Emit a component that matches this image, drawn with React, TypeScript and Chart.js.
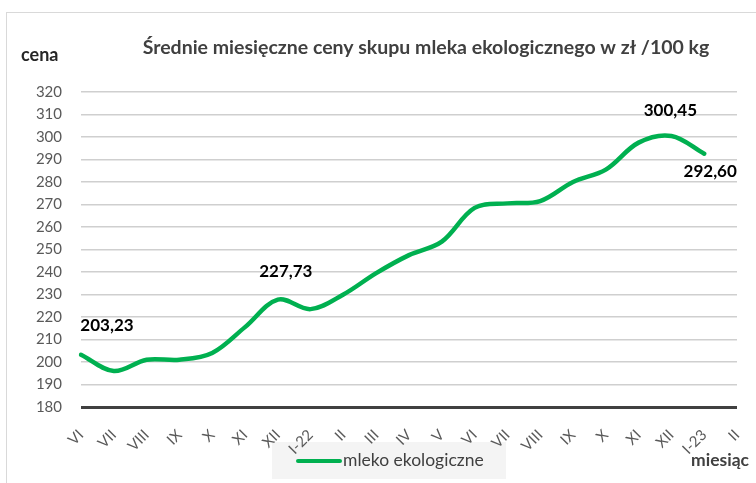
import React, { useEffect, useRef } from "react";
import { Chart, registerables } from "chart.js";

Chart.register(...registerables);

const categories = ["VI", "VII", "VIII", "IX", "X", "XI", "XII", "I-22", "II", "III", "IV", "V", "VI", "VII", "VIII", "IX", "X", "XI", "XII", "I-23", "II"];
const prices: (number | null)[] = [203.23, 196, 201, 201, 204, 215.5, 227.73, 223.5, 230, 239.5, 247.5, 253.5, 268.5, 270.5, 271.5, 280, 285.5, 297.5, 300.45, 292.6, null];
const labelledIndices = [0, 6, 18, 19];
const seriesName = "mleko ekologiczne";
const titleText = "Średnie miesięczne ceny skupu mleka ekologicznego w zł /100 kg";
const yAxisTitle = "cena";
const xAxisTitle = "miesiąc";
const yMin = 180;
const yMax = 320;
const yStep = 10;

const FONT = "Lato, 'Open Sans', sans-serif";
const GREEN = "#00B050";

// label offsets relative to the point (style)
const labelOffsets: Record<number, [number, number]> = {
  0: [26, -29],
  6: [8, -28],
  18: [-1, -25],
  19: [6, 18],
};

const decorPlugin = {
  id: "decor",
  beforeDraw(chart: any) {
    const ctx = chart.ctx;
    ctx.save();
    ctx.fillStyle = "#ffffff";
    ctx.fillRect(0, 0, chart.width, chart.height);
    ctx.strokeStyle = "#d9d9d9";
    ctx.lineWidth = 1;
    ctx.strokeRect(6.5, 12.5, 900, 700);
    // legend background
    ctx.fillStyle = "#f4f4f4";
    ctx.fillRect(272, 442, 234, 37);
    ctx.restore();
  },
  afterDraw(chart: any) {
    const ctx = chart.ctx;
    ctx.save();
    // title
    ctx.fillStyle = "#404040";
    ctx.font = `bold 19.5px ${FONT}`;
    ctx.textAlign = "center";
    ctx.textBaseline = "middle";
    ctx.fillText(titleText, 426, 48);
    // axis titles
    ctx.fillStyle = "#262626";
    ctx.font = `bold 18px ${FONT}`;
    ctx.textAlign = "left";
    ctx.fillText(yAxisTitle, 21, 55);
    ctx.fillStyle = "#404040";
    ctx.font = `bold 17.5px ${FONT}`;
    ctx.textAlign = "right";
    ctx.fillText(xAxisTitle, 749, 460);
    // legend
    ctx.strokeStyle = GREEN;
    ctx.lineWidth = 4;
    ctx.lineCap = "round";
    ctx.beginPath();
    ctx.moveTo(298, 461);
    ctx.lineTo(340, 461);
    ctx.stroke();
    ctx.fillStyle = "#404040";
    ctx.font = `17.5px ${FONT}`;
    ctx.textAlign = "left";
    ctx.fillText(seriesName, 343, 460);
    // data labels
    const meta = chart.getDatasetMeta(0);
    ctx.fillStyle = "#000000";
    ctx.font = `bold 17px ${FONT}`;
    ctx.textAlign = "center";
    labelledIndices.forEach((i) => {
      const v = prices[i];
      const pt = meta.data[i];
      if (v == null || !pt) return;
      const off = labelOffsets[i] || [0, -20];
      ctx.fillText(v.toFixed(2).replace(".", ","), pt.x + off[0], pt.y + off[1]);
    });
    ctx.restore();
  },
};

export default function App() {
  const ref = useRef<HTMLCanvasElement | null>(null);
  useEffect(() => {
    if (!ref.current) return;
    const chart = new Chart(ref.current, {
      type: "line",
      data: {
        labels: categories,
        datasets: [
          {
            label: seriesName,
            data: prices,
            borderColor: GREEN,
            backgroundColor: GREEN,
            borderWidth: 4.5,
            pointRadius: 0,
            tension: 0.35,
            fill: false,
            borderCapStyle: "round",
          },
        ],
      },
      options: {
        animation: false,
        responsive: false,
        maintainAspectRatio: false,
        devicePixelRatio: 1,
        layout: { padding: { left: 0, right: 19, top: 92, bottom: 0 } },
        plugins: { legend: { display: false }, title: { display: false }, tooltip: { enabled: false } },
        scales: {
          x: {
            type: "category",
            offset: false,
            grid: { display: false, drawTicks: false },
            border: { display: false },
            ticks: {
              autoSkip: false,
              maxRotation: 45,
              minRotation: 45,
              padding: 19,
              color: "#595959",
              font: { family: FONT, size: 15 },
            },
            afterFit: (s: any) => {
              s.height = 76;
              s.paddingLeft = 0;
              s.paddingRight = 0;
            },
          },
          y: {
            min: yMin,
            max: yMax,
            grid: {
              drawTicks: false,
              color: (c: any) => (c.tick && c.tick.value === yMin ? "#404040" : "#cfcfcf"),
              lineWidth: (c: any) => (c.tick && c.tick.value === yMin ? 3 : 1.5),
            },
            border: { display: false },
            ticks: {
              stepSize: yStep,
              padding: 19,
              color: "#595959",
              font: { family: FONT, size: 15 },
            },
            afterFit: (s: any) => {
              s.width = 81;
              s.paddingTop = 0;
              s.paddingBottom = 0;
            },
          },
        },
      },
      plugins: [decorPlugin],
    });
    return () => chart.destroy();
  }, []);
  return (
    <div style={{ position: "absolute", left: 0, top: 0, width: 756, height: 483 }}>
      <canvas ref={ref} width={756} height={483} style={{ display: "block" }} />
    </div>
  );
}
